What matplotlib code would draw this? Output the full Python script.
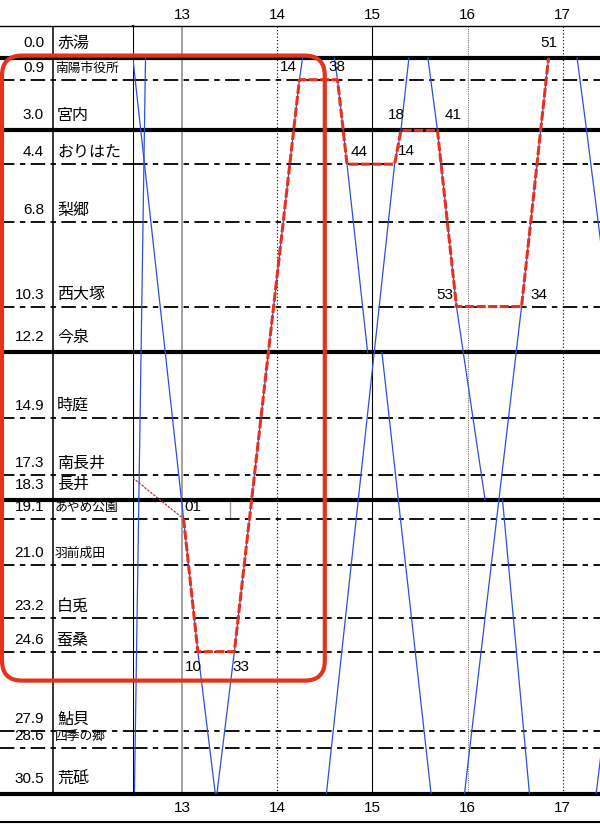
import matplotlib
matplotlib.use("Agg")
import matplotlib.pyplot as plt
from matplotlib.patches import FancyBboxPatch
from matplotlib.lines import Line2D

# Digits in Liberation Sans, Japanese falls back to Noto Sans CJK JP.
plt.rcParams['font.family'] = ['Liberation Sans', 'Noto Sans CJK JP']

# Stations (km from 赤湯).
station_km = [0.0, 0.9, 3.0, 4.4, 6.8, 10.3, 12.2, 14.9, 17.3, 18.3,
              19.1, 21.0, 23.2, 24.6, 27.9, 28.6, 30.5]
station_names = ['赤湯', '南陽市役所', '宮内', 'おりはた', '梨郷', '西大塚',
                 '今泉', '時庭', '南長井', '長井', 'あやめ公園', '羽前成田',
                 '白兎', '蚕桑', '鮎貝', '四季の郷', '荒砥']
major_stations = ['赤湯', '宮内', '今泉', '長井', '荒砥']
small_names = ['南陽市役所', 'あやめ公園', '羽前成田', '四季の郷']

hours = [13, 14, 15, 16, 17]

# Train runs, each a list of (time, km); a new list where a stop leaves a gap.
trains = [
    [("12:30", 30.5), ("12:37", 0.0)],
    [("12:29", 0.0), ("13:01", 19.1), ("13:10", 24.6), ("13:21", 30.5)],
    [("13:22", 30.5), ("13:33", 24.6), ("14:14", 0.9), ("14:16", 0.0)],
    [("14:36", 0.0), ("14:38", 0.9), ("14:44", 4.4), ("14:57", 12.2)],
    [("15:06", 12.2), ("15:37", 30.5)],
    [("14:31", 30.5), ("15:14", 4.4), ("15:18", 3.0), ("15:23", 0.0)],
    [("15:35", 0.0), ("15:41", 3.0), ("15:53", 10.3), ("16:11", 18.3)],
    [("16:22", 18.3), ("16:39", 30.5)],
    [("15:58", 30.5), ("16:34", 10.3), ("16:51", 0.0)],
    [("17:09", 0.0), ("17:15", 3.0), ("17:29", 10.3)],
    [("17:21", 30.5), ("17:32", 24.6)],
]

# The highlighted trip.
route = [("13:01", 19.1), ("13:10", 24.6), ("13:33", 24.6), ("14:14", 0.9),
         ("14:38", 0.9), ("14:44", 4.4), ("15:14", 4.4), ("15:18", 3.0),
         ("15:41", 3.0), ("15:53", 10.3), ("16:34", 10.3), ("16:51", 0.0)]
access = [("12:29", 17.4), ("13:01", 19.1)]

# where each route minute label sits (pixel offset from its point)
route_label_offsets = [(1, 12, 'left'), (-4, -15, 'center'), (7, -15, 'center'),
                       (-11, 13, 'center'), (-1, 13, 'center'), (12, 12, 'center'),
                       (12, 13, 'center'), (-5, 15, 'center'), (16, 15, 'center'),
                       (-12, 12, 'center'), (17, 12, 'center'), (0, 15, 'center')]


def hrs(s):
    h, m = s.split(":")
    return int(h) + int(m) / 60.0


W, H = 600, 824
fig = plt.figure(figsize=(W / 100, H / 100), dpi=100, facecolor='w')

left_px, top_px, bot_px = 133, 26, 794
ax = fig.add_axes([left_px / W, (H - bot_px) / H, (W - left_px) / W, (bot_px - top_px) / H])
lab = fig.add_axes([0, (H - bot_px) / H, left_px / W, (bot_px - top_px) / H], sharey=ax)

px_per_hour = 95.2
px_per_km = 24.13
ax.set_xlim(13 - (182 - left_px) / px_per_hour, 13 + (W - 182) / px_per_hour)
ax.set_ylim(30.5, -(58 - top_px) / px_per_km)
lab.set_xlim(0, left_px)

for a in (ax, lab):
    for s in ('bottom', 'right', 'left'):
        a.spines[s].set_visible(False)
    a.spines['top'].set_linewidth(1.0)
    a.set_xticks([])
    a.set_yticks([])
ax.spines['left'].set_visible(True)
ax.spines['left'].set_linewidth(1.5)
lab.tick_params(left=False, labelleft=False, bottom=False, labelbottom=False)
ax.tick_params(left=False, labelleft=False, bottom=False, labelbottom=False)

# hour lines
hour_styles = {
    13: dict(color='#9a9a9a', lw=1.3, ls='-'),
    14: dict(color='black', lw=0.8, ls=(0, (1, 2))),
    15: dict(color='black', lw=0.8, ls='-'),
    16: dict(color='#777777', lw=0.8, ls=(0, (1, 1))),
    17: dict(color='black', lw=0.8, ls=(0, (1, 2))),
}
for h in hours:
    ax.axvline(h, zorder=1, **hour_styles[h])
    ax.annotate(str(h), xy=(h, 1), xycoords=('data', 'axes fraction'),
                xytext=(0, 11), textcoords='offset pixels',
                ha='center', va='center', fontsize=11)
    ax.annotate(str(h), xy=(h, 0), xycoords=('data', 'axes fraction'),
                xytext=(0, -14), textcoords='offset pixels',
                ha='center', va='center', fontsize=11)
ax.vlines(13.5, 18.3, 19.1, color='#9a9a9a', lw=1.0, zorder=1)

# station lines and labels
for km, name in zip(station_km, station_names):
    for a in (ax, lab):
        if name in major_stations:
            a.axhline(km, color='black', lw=3.0, zorder=2, clip_on=False)
        else:
            a.axhline(km, color='black', lw=1.3, ls=(0, (8, 3, 3, 3)), zorder=2)
    up = 15 if name in major_stations else 12
    lab.annotate(f"{km:.1f}", xy=(44, km), xytext=(0, up), textcoords='offset pixels',
                 ha='right', va='center', fontsize=11)
    if name in small_names:
        lab.annotate(name, xy=(55, km), xytext=(0, up - 1), textcoords='offset pixels',
                     ha='left', va='center', fontsize=9.2)
    else:
        lab.annotate(name, xy=(57, km), xytext=(0, up), textcoords='offset pixels',
                     ha='left', va='center', fontsize=11.5)

lab.axvline(53, color='black', lw=1.1)

# trains
for run in trains:
    ax.plot([hrs(t) for t, _ in run], [k for _, k in run],
            color='#2f4fd8', lw=0.9, zorder=3)

ax.plot([hrs(t) for t, _ in access], [k for _, k in access],
        color='#b23a3a', lw=0.9, ls=(0, (2, 1)), zorder=4)
ax.plot([hrs(t) for t, _ in route], [k for _, k in route],
        color='#e8301c', lw=2.2, ls=(0, (3, 0.8)), zorder=5)

for (t, k), (dx, dy, ha) in zip(route, route_label_offsets):
    ax.annotate(t.split(":")[1], xy=(hrs(t), k), xytext=(dx, dy),
                textcoords='offset pixels', ha=ha, va='center', fontsize=11, zorder=6)

# bottom border of the hour row
fig.add_artist(Line2D([0, 1], [2 / H, 2 / H], transform=fig.transFigure,
                      color='black', lw=1.5))

# rounded highlight box
x0 = lab.transData.transform((2, 0))[0] / fig.dpi
x1 = ax.transData.transform((14.5, 0))[0] / fig.dpi
y1 = ax.transData.transform((13, -0.1))[1] / fig.dpi
y0 = ax.transData.transform((13, 25.8))[1] / fig.dpi
box = FancyBboxPatch((x0, y0), x1 - x0, y1 - y0,
                     boxstyle='round,pad=0,rounding_size=0.2',
                     transform=fig.dpi_scale_trans, fill=False,
                     edgecolor='#e2341c', lw=3.0, zorder=10)
fig.add_artist(box)

fig.savefig("out.png", dpi=100, facecolor='w')
